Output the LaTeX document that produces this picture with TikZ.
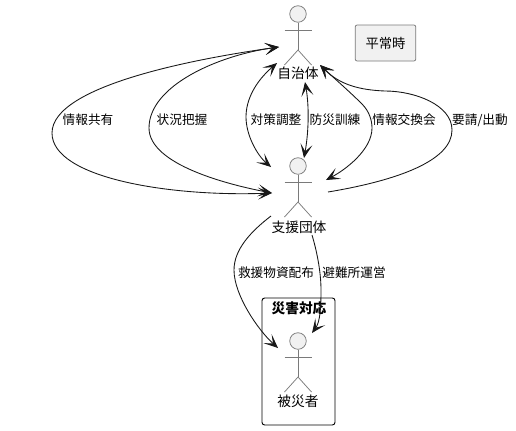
\documentclass[tikz,border=0pt]{standalone}
\usepackage{fontspec}
\setmainfont{Noto Sans CJK JP}
\usetikzlibrary{arrows.meta}
\definecolor{linec}{HTML}{181818}
\definecolor{actorc}{HTML}{7A7A7A}
\definecolor{fillc}{HTML}{F1F1F1}
\tikzset{
  x=0.75pt,y=-0.75pt,
  lab/.style={font=\fontsize{9.5pt}{11pt}\selectfont,text=black,inner sep=0pt,anchor=center},
  biglab/.style={font=\fontsize{10.3pt}{12pt}\selectfont,text=black,inner sep=0pt,anchor=center},
  titlelab/.style={font=\fontsize{10.3pt}{12pt}\selectfont\bfseries,text=black,inner sep=0pt,anchor=center},
  conn/.style={draw=linec,line width=0.65pt,{Stealth[length=10.5pt,width=9pt,inset=5.5pt]}-{Stealth[length=10.5pt,width=9pt,inset=5.5pt]}},
  conntip/.style={draw=linec,line width=0.65pt,-{Stealth[length=10.5pt,width=9pt,inset=5.5pt]}},
  limb/.style={draw=actorc,line width=0.55pt},
  headc/.style={circle,draw=actorc,fill=fillc,line width=0.55pt,minimum size=12.4pt,inner sep=0pt},
  notebox/.style={draw=actorc,fill=fillc,rounded corners=1.5pt,line width=0.55pt,minimum width=45.5pt,minimum height=27pt,inner sep=0pt,font=\fontsize{10pt}{12pt}\selectfont},
  frameb/.style={draw=black,rounded corners=2pt,line width=0.7pt}
}
\newcommand{\actorfig}[3]{%
  \node[headc] (#1) at (#2,#3) {};
  \draw[limb] (#1.south) -- (#2,#3+36) coordinate (#1hip);
  \draw[limb] (#2-13.5,#3+16) coordinate (#1al) -- (#2+13.5,#3+16) coordinate (#1ar);
  \draw[limb] (#2-13.5,#3+51) coordinate (#1ll) -- (#1hip) -- (#2+13.5,#3+51) coordinate (#1lr);
}
\begin{document}
\begin{tikzpicture}
\useasboundingbox[fill=white] (0,0) rectangle (516,430);
% frame
\draw[frameb] (262,298) rectangle (335,425);
\node[titlelab] (ftitle) at (299,308) {災害対応};
% actors
\actorfig{a}{298}{14}
\actorfig{b}{298}{166}
\actorfig{c}{298}{341}
\node[biglab] (alab) at (298,73) {自治体};
\node[biglab] (blab) at (299,227) {支援団体};
\node[biglab] (clab) at (298,401) {被災者};
\node[notebox] (note) at (385.5,43) {平常時};
% connector ends
\coordinate (t1) at (279,47);
\coordinate (t2) at (272,193);
\coordinate (t3) at (277,63);
\coordinate (t4) at (271,167);
\coordinate (t5) at (305,82);
\coordinate (t6) at (304,158);
\coordinate (t7) at (320,65);
\coordinate (t8) at (326,180);
\coordinate (s9) at (328,192);
\coordinate (s10) at (271,216);
\coordinate (t10) at (278,348);
\coordinate (s11) at (312,235);
\coordinate (t11) at (312,333);
% connectors
\draw[conn] (t1) .. controls (200,58) and (52,85) .. (52,133) .. controls (52,178) and (170,197) .. (t2);
\draw[conn] (t1) .. controls (220,55) and (149,85) .. (149,128) .. controls (149,165) and (230,185) .. (t2);
\draw[conn] (t3) .. controls (255,82) and (246,100) .. (246,117) .. controls (246,135) and (257,155) .. (t4);
\draw[conn] (t5) .. controls (309,105) and (309,130) .. (t6);
\draw[conn] (t7) .. controls (335,79) and (350,92) .. (362,104) .. controls (369,111) and (372,120) .. (372,128) .. controls (372,150) and (345,170) .. (t8);
\draw[conntip] (s9) .. controls (400,180) and (452,160) .. (452,130) .. controls (452,105) and (415,91) .. (385,91) .. controls (360,90) and (340,85) .. (t7);
\draw[conntip] (s10) .. controls (250,232) and (234,250) .. (234,270) .. controls (234,295) and (258,330) .. (t10);
\draw[conntip] (s11) .. controls (318,255) and (321,275) .. (321,290) .. controls (321,308) and (320,322) .. (t11);
% labels
\node[lab] (l1) at (88,120) {情報共有};
\node[lab] (l2) at (182,120) {状況把握};
\node[lab] (l3) at (276,120) {対策調整};
\node[lab] (l4) at (335,120) {防災訓練};
\node[lab] (l5) at (404,120) {情報交換会};
\node[lab] (l6) at (480,120) {要請/出動};
\node[lab] (l7) at (276,273) {救援物資配布};
\node[lab] (l8) at (354,273) {避難所運営};
\end{tikzpicture}
\end{document}
